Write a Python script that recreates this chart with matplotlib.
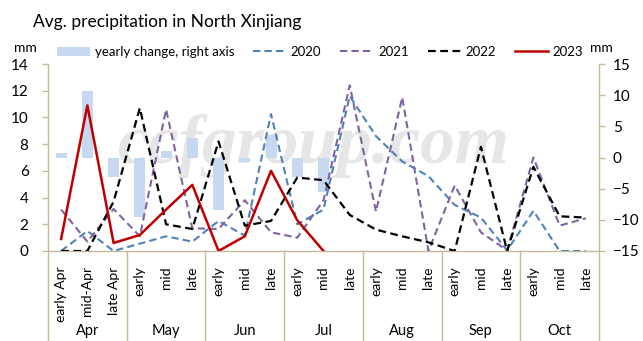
import matplotlib
matplotlib.use("Agg")
import matplotlib.pyplot as plt
import numpy as np
from matplotlib.transforms import blended_transform_factory

plt.rcParams['font.family'] = ['Lato', 'DejaVu Sans']

cat_labels = ['early Apr', 'mid-Apr', 'late Apr',
              'early', 'mid', 'late', 'early', 'mid', 'late',
              'early', 'mid', 'late', 'early', 'mid', 'late',
              'early', 'mid', 'late', 'early', 'mid', 'late']
months = ['Apr', 'May', 'Jun', 'Jul', 'Aug', 'Sep', 'Oct']

yearly_change = [0.8, 10.7, -3.2, -9.6, 1.0, 3.2, -8.4, -0.8, 3.6, -3.2, -5.5]
s2020 = [0, 1.5, 0, 0.55, 1.1, 0.7, 2.25, 1.15, 10.25, 2.0, 3.1,
         11.6, 8.6, 6.7, 5.6, 3.45, 2.5, 0.05, 3.0, 0, 0]
s2021 = [3.1, 0.7, 3.15, 1.1, 10.6, 1.7, 1.65, 3.8, 1.4, 1.0, 3.8,
         12.4, 2.95, 11.5, 0, 4.9, 1.4, 0.05, 7.0, 1.9, 2.45]
s2022 = [0, 0, 3.7, 10.7, 2.0, 1.65, 8.2, 1.9, 2.25, 5.5, 5.3,
         2.7, 1.6, 1.1, 0.65, 0, 7.8, 0, 6.3, 2.6, 2.5]
s2023 = [0.9, 10.9, 0.6, 1.2, 3.1, 4.95, 0, 1.1, 6.0, 2.3, 0]

axis_col = '#c4b998'

fig = plt.figure(figsize=(6.43, 3.41), dpi=100)
ax = fig.add_axes([48/643, 1-251/341, (599-48)/643, (251-64)/341])
ax2 = ax.twinx()
ax2.set_zorder(ax.get_zorder() - 1)
ax.patch.set_visible(False)
ax2.patch.set_visible(False)

n = len(cat_labels)
x = np.arange(n)

# watermark (behind everything)
fig.text(314/643, 1 - 163/341, 'ccfgroup.com', fontsize=50, family='Liberation Serif',
         style='italic', weight='bold', color='#e6e6e6', ha='center', va='baseline',
         zorder=-5)

bars = ax2.bar(x[:len(yearly_change)], yearly_change, width=0.42, color='#c6d9f0',
               label='yearly change, right axis', zorder=1)
ax2.set_ylim(-15, 15)
ax2.set_yticks([-15, -10, -5, 0, 5, 10, 15])

l20, = ax.plot(x, s2020, color='#4f81bd', lw=1.5, ls=(0, (3.5, 2)), label='2020')
l21, = ax.plot(x, s2021, color='#8064a2', lw=1.5, ls=(0, (3.5, 2)), label='2021')
l22, = ax.plot(x, s2022, color='black', lw=1.6, ls=(0, (3.5, 2)), label='2022')
l23, = ax.plot(x[:len(s2023)], s2023, color='#c00000', lw=1.8, label='2023')

ax.set_xlim(-0.5, n - 0.5)
ax.set_ylim(0, 14)
ax.set_yticks(range(0, 15, 2))

for a in (ax, ax2):
    for s in a.spines.values():
        s.set_visible(False)
for k in ('left', 'right', 'bottom'):
    ax2.spines[k].set_visible(True)
    ax2.spines[k].set_color(axis_col)
    ax2.spines[k].set_linewidth(1.0)

ax.tick_params(axis='y', length=4, width=1, color=axis_col, labelsize=11, pad=10)
ax2.tick_params(axis='y', length=4, width=1, color=axis_col, labelsize=11, pad=6)
ax2.tick_params(axis='x', length=0)
ax2.set_xticks([])
ax.set_xticks(x)
ax.set_xticklabels(cat_labels, rotation=90, fontsize=10, va='top')
ax.tick_params(axis='x', length=0, pad=11)

# separators and month labels
tr = blended_transform_factory(ax.transData, ax.transAxes)
sep_y = -(341 - 251) / (251 - 64)
for b in np.arange(-0.5, n, 3):
    ax.plot([b, b], [0, sep_y], transform=tr, color=axis_col, lw=1.0, clip_on=False)
for i, m in enumerate(months):
    ax.text(3 * i + 1, -(331 - 251) / (251 - 64), m, transform=tr, ha='center',
            va='center', fontsize=10.5)

fig.text(33/643, 1 - 22/341, 'Avg. precipitation in North Xinjiang', fontsize=12.5,
         ha='left', va='center')
fig.text(14/643, 1 - 48/341, 'mm', fontsize=10, ha='left', va='center')
fig.text(590/643, 1 - 48/341, 'mm', fontsize=10, ha='left', va='center')

handles = [bars, l20, l21, l22, l23]
fig.legend(handles, [h.get_label() for h in handles], ncol=5, frameon=False,
           loc='center left', bbox_to_anchor=(57/643, 1 - 52/341), fontsize=9.5,
           handlelength=2.5, handletextpad=0.35, columnspacing=1.45, borderaxespad=0,
           borderpad=0)

fig.savefig('out.png', dpi=100)
